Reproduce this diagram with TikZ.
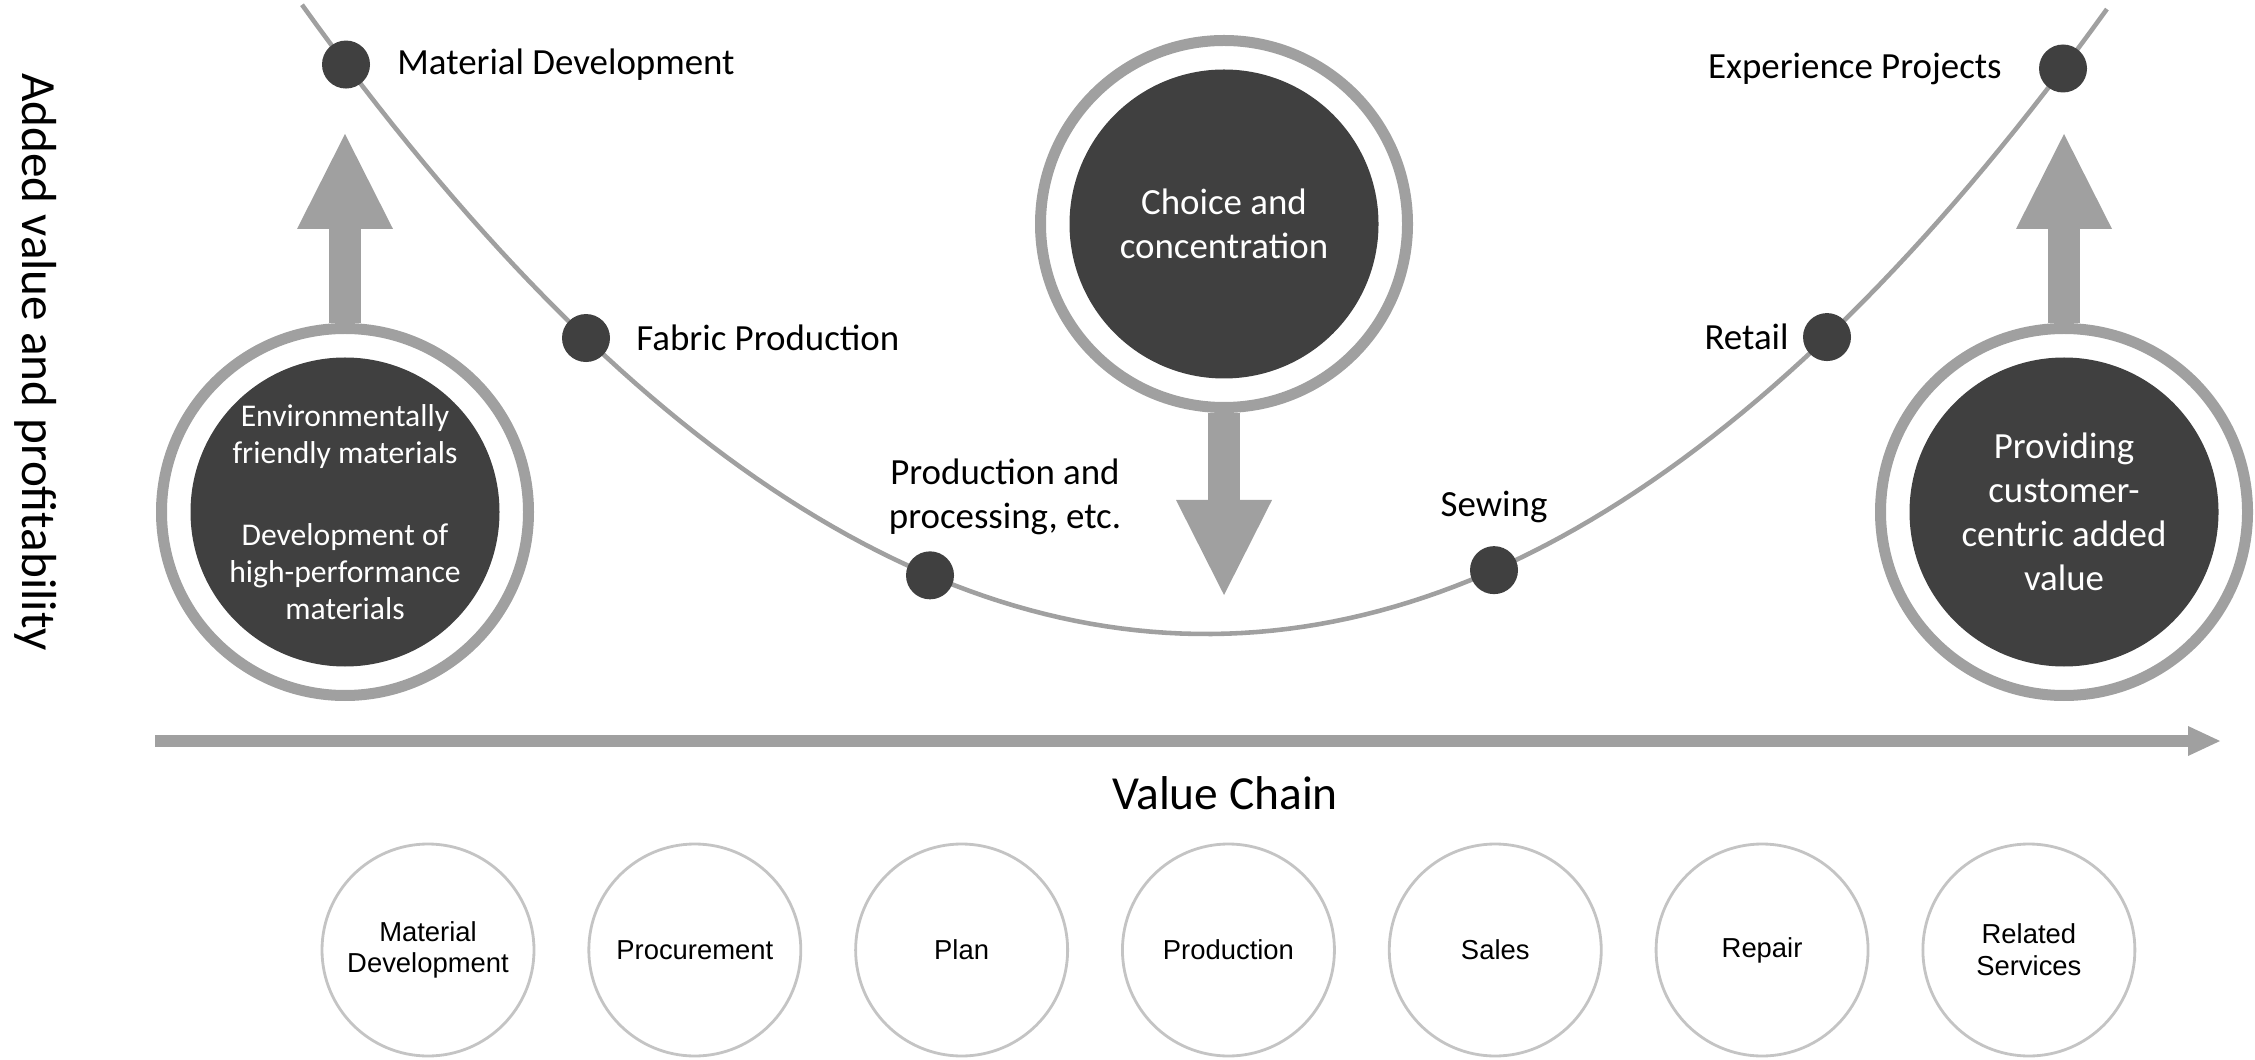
\documentclass[tikz,border=0pt]{standalone}
\usepackage{fontspec}
\setmainfont{Carlito}
\newfontfamily\stepfont{Liberation Sans}
\usepackage{tikz}
\usetikzlibrary{positioning,arrows.meta,calc}
\definecolor{CoreGray}{RGB}{64,64,64}
\definecolor{RingGray}{RGB}{160,160,160}
\definecolor{StepGray}{RGB}{196,196,196}
\pgfmathdeclarefunction{vc}{1}{\pgfmathparse{4.25+0.077*(#1-12.06)^2}}
\tikzset{
  curve/.style={draw=RingGray, line width=1.3pt},
  dot/.style={circle, fill=CoreGray, inner sep=0pt, minimum size=0.48cm},
  lbl/.style={align=center, inner sep=0pt, font=\fontsize{10.5}{12.5}\selectfont},
  ring/.style={circle, draw=RingGray, line width=0.11cm, minimum size=3.67cm, inner sep=0pt},
  core/.style={circle, fill=CoreGray, text=white, align=center, inner sep=-0.4cm,
    minimum size=3.09cm, font=\fontsize{10.5}{12.5}\selectfont},
  stepcirc/.style={circle, draw=StepGray, line width=0.8pt, minimum size=2.12cm,
    inner sep=0pt, align=center, font=\stepfont\fontsize{7.8}{9}\selectfont},
  bigarrow/.style={draw=RingGray, line width=0.32cm,
    -{Triangle[length=0.95cm, width=0.96cm, line width=0pt]}},
  chainaxis/.style={draw=RingGray, line width=0.12cm,
    -{Triangle[length=0.32cm, width=0.30cm, line width=0pt]}}
}

\begin{document}
\begin{tikzpicture}
  \useasboundingbox (0,0) rectangle (22.55,10.59);

  % smile curve and its stages
  \draw[curve] plot[domain=3.02:21.07, samples=120] (\x,{vc(\x)});
  \node[dot] (matdev) at (3.46,{vc(3.46)}) {};
  \node[dot] (fabric) at (5.86,{vc(5.86)}) {};
  \node[dot] (prod) at (9.30,{vc(9.30)}) {};
  \node[dot] (sewing) at (14.94,{vc(14.94)}) {};
  \node[dot] (retail) at (18.27,{vc(18.27)}) {};
  \node[dot] (exper) at (20.63,{vc(20.63)}) {};
  \node[lbl, right=0.26cm of matdev] (matdevlbl) {Material Development};
  \node[lbl, right=0.25cm of fabric] (fabriclbl) {Fabric Production};
  \node[lbl, above=0.15cm of prod, xshift=0.75cm] (prodlbl) {Production and\\processing, etc.};
  \node[lbl, above=0.22cm of sewing] (sewinglbl) {Sewing};
  \node[lbl, left=0.13cm of retail] (retaillbl) {Retail};
  \node[lbl, left=0.36cm of exper] (experlbl) {Experience Projects};

  % focus circles
  \node[ring] (envring) at (3.45,5.47) {};
  \node[core, font=\fontsize{9}{10.5}\selectfont] (env) at (envring)
    {Environmentally\\friendly materials\\[13pt]Development of\\high-performance\\materials};
  \node[ring] (choicering) at (12.24,8.35) {};
  \node[core] (choice) at (choicering) {Choice and\\concentration};
  \node[ring] (custring) at (20.64,5.47) {};
  \node[core] (cust) at (custring) {Providing\\customer-\\centric added\\value};

  \coordinate[above=1.89cm of envring.north] (envtip);
  \coordinate[below=1.82cm of choicering.south] (choicetip);
  \coordinate[above=1.89cm of custring.north] (custtip);
  \draw[bigarrow] (envring) -- (envtip);
  \draw[bigarrow] (choicering) -- (choicetip);
  \draw[bigarrow] (custring) -- (custtip);

  % axes
  \node[rotate=-90, font=\fontsize{14}{16}\selectfont] (yaxis) at (0.36,6.97) {Added value and profitability};
  \coordinate (axstart) at (1.55,3.18);
  \coordinate (axend) at (22.20,3.18);
  \draw[chainaxis] (axstart) -- (axend);
  \node[font=\fontsize{13.5}{16}\selectfont] (vchain) at (12.25,2.66) {Value Chain};

  % value chain steps
  \node[stepcirc] (s1) at (4.28,1.09) {Material\\Development};
  \node[stepcirc, right=0.52cm of s1] (s2) {Procurement};
  \node[stepcirc, right=0.52cm of s2] (s3) {Plan};
  \node[stepcirc, right=0.52cm of s3] (s4) {Production};
  \node[stepcirc, right=0.52cm of s4] (s5) {Sales};
  \node[stepcirc, right=0.52cm of s5] (s6) {Repair};
  \node[stepcirc, right=0.52cm of s6] (s7) {Related\\Services};
\end{tikzpicture}
\end{document}
